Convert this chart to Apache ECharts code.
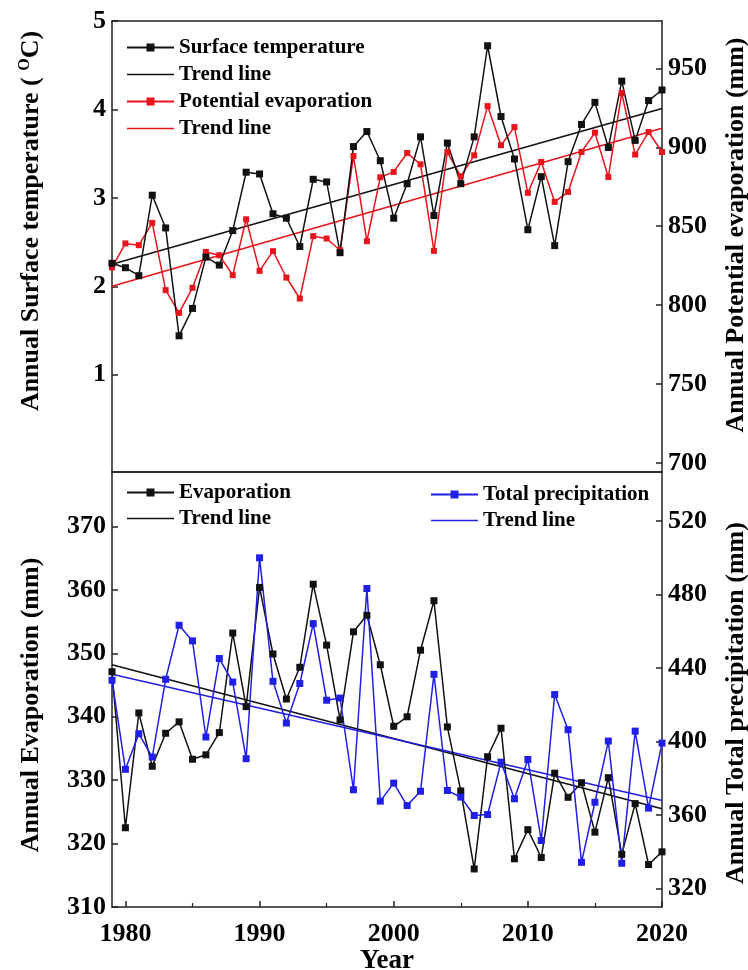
<!DOCTYPE html>
<html><head><meta charset="utf-8">
<script src="https://cdn.jsdelivr.net/npm/echarts@6/dist/echarts.min.js"></script>
<style>html,body{margin:0;padding:0;background:#fff}#c{width:748px;height:970px}</style>
</head><body><div id="c"></div>
<script>
const years = [1979,1980,1981,1982,1983,1984,1985,1986,1987,1988,1989,1990,1991,1992,1993,1994,1995,1996,1997,1998,1999,2000,2001,2002,2003,2004,2005,2006,2007,2008,2009,2010,2011,2012,2013,2014,2015,2016,2017,2018,2019,2020];
const surfaceTemp = [2.26,2.21,2.12,3.03,2.66,1.44,1.75,2.33,2.24,2.63,3.29,3.27,2.82,2.77,2.45,3.21,3.18,2.38,3.58,3.75,3.42,2.77,3.16,3.69,2.80,3.62,3.16,3.69,4.72,3.92,3.44,2.64,3.24,2.46,3.41,3.83,4.08,3.57,4.32,3.65,4.10,4.22];
const potentialEvap = [823.9,839.1,838,852.1,809.5,795.1,811,833.7,831.6,819,854.4,821.7,834.2,817.5,804.2,843.7,842.2,834.8,894.5,840.5,881,884.4,896.4,889.2,834.4,897,881.6,894.9,926.1,901.3,912.8,871.1,890.7,865.4,871.7,897,909.3,881.2,934.4,895.4,909.7,897];
const evaporation = [347.1,322.5,340.6,332.2,337.4,339.2,333.3,334.0,337.5,353.2,341.6,360.4,349.9,342.8,347.8,360.9,351.3,339.5,353.4,356.0,348.2,338.5,340.0,350.5,358.3,338.4,328.3,316.0,333.7,338.2,317.6,322.2,317.8,331.1,327.3,329.6,321.8,330.4,318.3,326.3,316.7,318.7];
const precipitation = [433.4,384.9,404.3,391.6,433.9,463.3,454.8,402.5,445.2,432.4,390.7,500.0,432.8,410.1,431.6,464.2,422.5,423.7,373.8,483.3,367.6,377.4,365.2,373.0,436.6,373.4,369.8,359.8,360.3,388.8,368.9,390.3,346.2,425.6,406.5,334.3,367.0,400.3,333.8,405.7,363.8,399.2];
const trendYears = [1979, 2020];
const tempTrend = [2.25, 4.01];
const peTrend = [812, 912];
const evapTrend = [348.2, 325.5];
const precipTrend = [436.6, 368.0];
const xTicks = [1980, 1990, 2000, 2010, 2020];
const xMinorTicks = [1985, 1995, 2005, 2015];
const tempTicks = [1, 2, 3, 4, 5];
const peTicks = [700, 750, 800, 850, 900, 950];
const evapTicks = [310, 320, 330, 340, 350, 360, 370];
const precipTicks = [320, 360, 400, 440, 480, 520];

const FONT = '"Liberation Serif","Times New Roman",serif';
const BLACK = '#111111', RED = '#e8141b', BLUE = '#1f1fe6';
const pair = (xs, ys) => xs.map((x, i) => [x, ys[i]]);
const lineAx = {lineStyle: {color: '#222', width: 1.5}};
const plain = v => String(v);

function xAx(grid, pos, opts) {
  return Object.assign({type: 'value', gridIndex: grid, position: pos, min: 1979, max: 2020,
    splitLine: {show: false}, axisLine: Object.assign({show: true, onZero: false}, lineAx),
    axisTick: {show: false}, axisLabel: {show: false}}, opts || {});
}
function yAx(grid, pos, min, max, ticks) {
  return {type: 'value', gridIndex: grid, position: pos, min: min, max: max,
    splitLine: {show: false}, axisLine: Object.assign({show: true, onZero: false}, lineAx),
    axisTick: {show: true, inside: true, length: 6, lineStyle: {color: '#222', width: 1.5}, customValues: ticks},
    axisLabel: {show: true, customValues: ticks, formatter: plain, margin: 6, color: '#000', fontFamily: FONT, fontWeight: 'bold', fontSize: 26}};
}
const legendText = {fontFamily: FONT, fontWeight: 'bold', fontSize: 21, color: '#000', lineHeight: 21};
const fmt = n => n.replace(/#\d$/, '');
const trendIcon = 'path://M0,0H47V1.6H0Z';
const legendBase = {orient: 'vertical', itemWidth: 47, itemHeight: 10, padding: 0, selectedMode: false, formatter: fmt, textStyle: legendText};

const chart = echarts.init(document.getElementById('c'), null, {renderer: 'canvas'});
chart.setOption({
  animation: false,
  backgroundColor: '#fff',
  grid: [
    {left: 112, top: 21, width: 550, height: 451, outerBoundsMode: 'none', containLabel: false},
    {left: 112, top: 472, width: 550, height: 435, outerBoundsMode: 'none', containLabel: false}
  ],
  xAxis: [
    xAx(0, 'bottom'),
    xAx(0, 'top'),
    xAx(1, 'bottom', {
      axisTick: {show: true, inside: true, length: 6, lineStyle: {color: '#222', width: 1.5}, customValues: xTicks},
      axisLabel: {show: true, customValues: xTicks, formatter: plain, margin: 14, color: '#000', fontFamily: FONT, fontWeight: 'bold', fontSize: 26},
      name: 'Year', nameLocation: 'middle', nameGap: 37,
      nameTextStyle: {color: '#000', fontFamily: FONT, fontWeight: 'bold', fontSize: 27}
    }),
    xAx(1, 'bottom', {axisLine: {show: false},
      axisTick: {show: true, inside: true, length: 4, lineStyle: {color: '#222', width: 1.2}, customValues: xMinorTicks}}),
    xAx(1, 'top')
  ],
  yAxis: [
    yAx(0, 'left', -0.1, 5, tempTicks),
    yAx(0, 'right', 694.3, 980, peTicks),
    yAx(1, 'left', 310, 378.6, evapTicks),
    yAx(1, 'right', 310, 546.7, precipTicks)
  ],
  legend: [
    Object.assign({left: 126, top: 37, itemGap: 6,
     data: ['Surface temperature', {name: 'Trend line#1', icon: trendIcon}, 'Potential evaporation', {name: 'Trend line#2', icon: trendIcon}]}, legendBase),
    Object.assign({left: 126, top: 482, itemGap: 5,
     data: ['Evaporation', {name: 'Trend line#3', icon: trendIcon}]}, legendBase),
    Object.assign({left: 430, top: 484, itemGap: 5,
     data: ['Total precipitation', {name: 'Trend line#4', icon: trendIcon}]}, legendBase)
  ],
  series: [
    {name: 'Trend line#1', type: 'line', xAxisIndex: 0, yAxisIndex: 0, data: pair(trendYears, tempTrend),
     symbol: 'none', lineStyle: {color: BLACK, width: 1.6}, itemStyle: {color: BLACK}},
    {name: 'Trend line#2', type: 'line', xAxisIndex: 0, yAxisIndex: 1, data: pair(trendYears, peTrend),
     symbol: 'none', lineStyle: {color: RED, width: 1.6}, itemStyle: {color: RED}},
    {name: 'Potential evaporation', type: 'line', xAxisIndex: 0, yAxisIndex: 1, data: pair(years, potentialEvap),
     symbol: 'rect', symbolSize: 6, lineStyle: {color: RED, width: 1.5}, itemStyle: {color: RED}},
    {name: 'Surface temperature', type: 'line', xAxisIndex: 0, yAxisIndex: 0, data: pair(years, surfaceTemp),
     symbol: 'rect', symbolSize: 7, lineStyle: {color: BLACK, width: 1.5}, itemStyle: {color: BLACK}},
    {name: 'Trend line#3', type: 'line', xAxisIndex: 2, yAxisIndex: 2, data: pair(trendYears, evapTrend),
     symbol: 'none', lineStyle: {color: BLACK, width: 1.6}, itemStyle: {color: BLACK}},
    {name: 'Trend line#4', type: 'line', xAxisIndex: 2, yAxisIndex: 3, data: pair(trendYears, precipTrend),
     symbol: 'none', lineStyle: {color: BLUE, width: 1.6}, itemStyle: {color: BLUE}},
    {name: 'Evaporation', type: 'line', xAxisIndex: 2, yAxisIndex: 2, data: pair(years, evaporation),
     symbol: 'rect', symbolSize: 7, lineStyle: {color: BLACK, width: 1.5}, itemStyle: {color: BLACK}},
    {name: 'Total precipitation', type: 'line', xAxisIndex: 2, yAxisIndex: 3, data: pair(years, precipitation),
     symbol: 'rect', symbolSize: 7, lineStyle: {color: BLUE, width: 1.5}, itemStyle: {color: BLUE}}
  ],
  graphic: [
    {type: 'text', x: 31, y: 221, rotation: Math.PI / 2,
     style: {text: '{a|Annual Surface temperature ( }{s|O}{a|C)}', align: 'center', verticalAlign: 'middle',
       rich: {a: {fontFamily: FONT, fontWeight: 'bold', fontSize: 26, fill: '#000', lineHeight: 28},
              s: {fontFamily: FONT, fontWeight: 'bold', fontSize: 16, fill: '#000', verticalAlign: 'top', lineHeight: 16}}}},
    {type: 'text', x: 736, y: 235, rotation: Math.PI / 2,
     style: {text: 'Annual Potential evaporation (mm)', align: 'center', verticalAlign: 'middle',
       font: 'bold 26px ' + FONT, fill: '#000'}},
    {type: 'text', x: 31, y: 705, rotation: Math.PI / 2,
     style: {text: 'Annual Evaporation (mm)', align: 'center', verticalAlign: 'middle',
       font: 'bold 26px ' + FONT, fill: '#000'}},
    {type: 'text', x: 736, y: 703, rotation: Math.PI / 2,
     style: {text: 'Annual Total precipitation (mm)', align: 'center', verticalAlign: 'middle',
       font: 'bold 26px ' + FONT, fill: '#000'}}
  ]
});
</script></body></html>
